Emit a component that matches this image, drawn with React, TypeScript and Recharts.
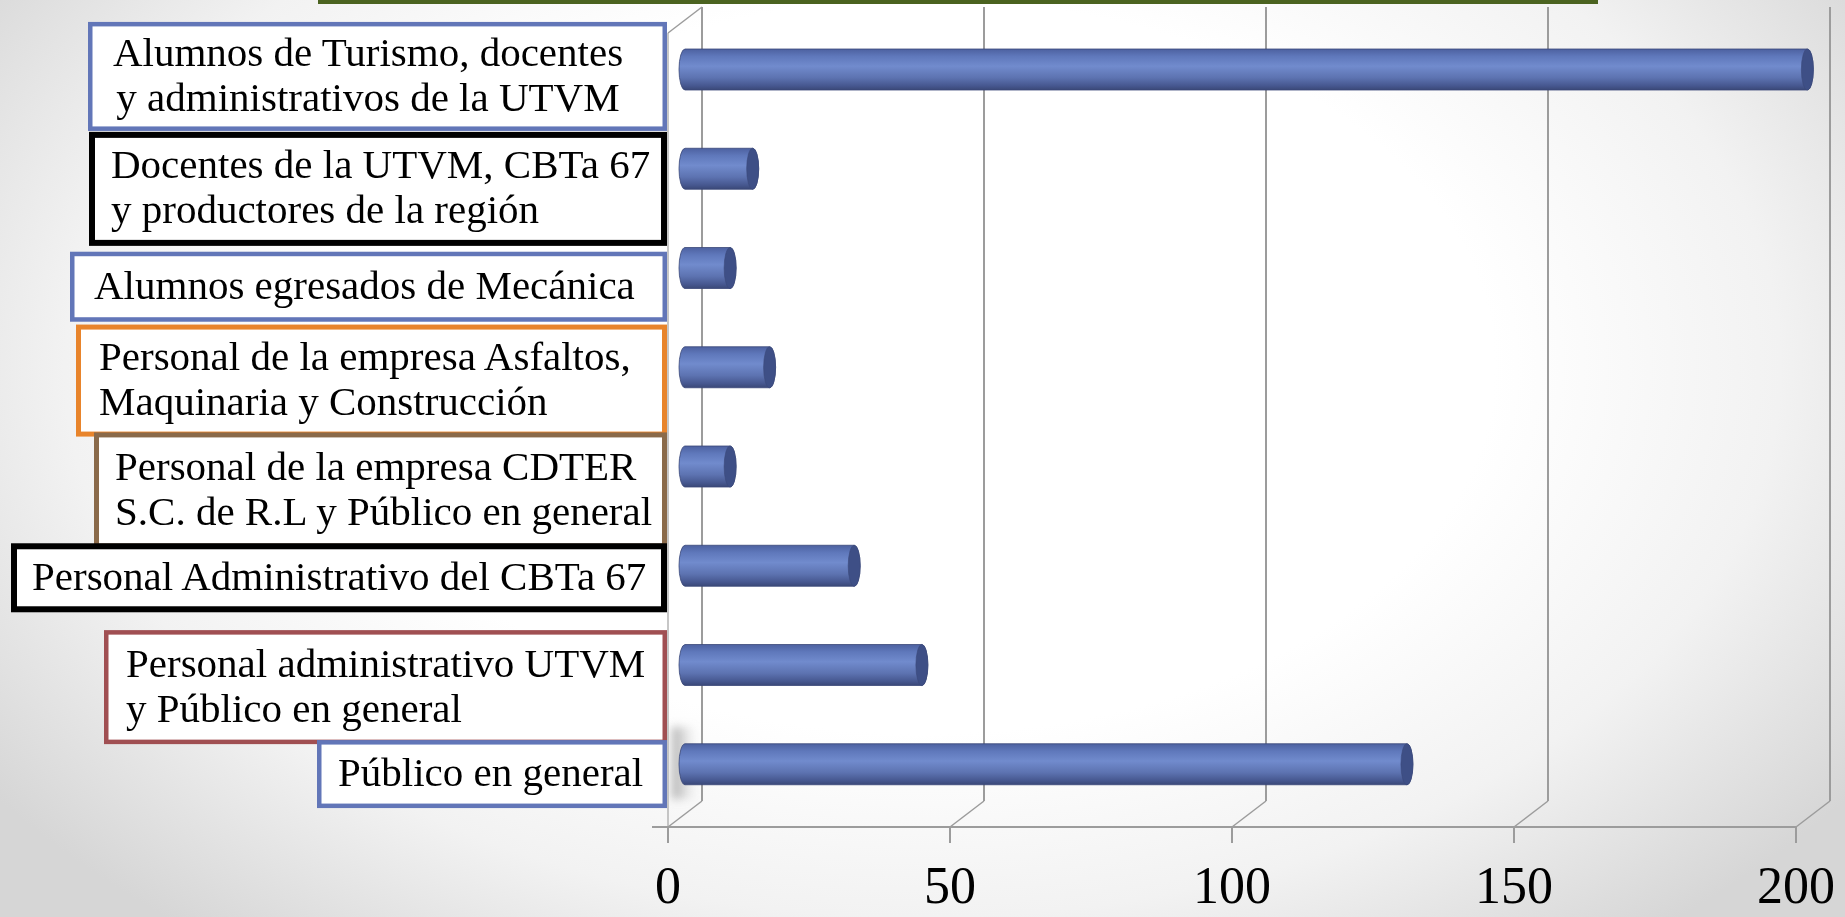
import React from 'react';
import { BarChart, Bar, XAxis, YAxis, usePlotArea } from 'recharts';

// Audience groups (top to bottom), "\n" marks the line break inside each label box
const categories = [
  'Alumnos de Turismo, docentes\ny administrativos de la UTVM',
  'Docentes de la UTVM, CBTa 67\ny productores de la región',
  'Alumnos egresados de Mecánica',
  'Personal de la empresa Asfaltos,\nMaquinaria y Construcción',
  'Personal de la empresa CDTER\nS.C. de R.L y Público en general',
  'Personal Administrativo del CBTa 67',
  'Personal administrativo UTVM\ny Público en general',
  'Público en general',
];

// Number of participants per group
const participants = [199, 12, 8, 15, 8, 30, 42, 128];

const xTicks = [0, 50, 100, 150, 200];

const W = 1845;
const H = 917;

const Colors = {
  Grid: '#9c9c9c',
  Title: '#4b6320',
  CapFill: '#3e4f86',
  BarEdge: '#3a4878',
  Blue: '#6276b8',
  Black: '#000000',
  Orange: '#e8842b',
  Brown: '#8a6a4a',
  Red: '#a04f52',
} as const;

// 3D depth: back wall offset and the middle plane where the cylinders sit
const BACK_DX = 34;
const BACK_DY = -26;
const MID_DX = 17;
const MID_DY = -13;

const FONT = "'Liberation Serif', 'Times New Roman', serif";
const TICK_BASELINE = 903;

// Box look for each category label (same order as categories)
const boxStyles = [
  { left: 88, top: -60.7, height: 109, stroke: Colors.Blue, sw: 4.5, textX: 368, anchor: 'middle' },
  { left: 89, top: -50, height: 114, stroke: Colors.Black, sw: 6, textX: 111, anchor: 'start' },
  { left: 70, top: -29.4, height: 70, stroke: Colors.Blue, sw: 4.5, textX: 94, anchor: 'start' },
  { left: 76, top: -55.8, height: 112, stroke: Colors.Orange, sw: 5, textX: 99, anchor: 'start' },
  { left: 94, top: -47.2, height: 116, stroke: Colors.Brown, sw: 5, textX: 115, anchor: 'start' },
  { left: 11, top: -35.6, height: 69, stroke: Colors.Black, sw: 6, textX: 32, anchor: 'start' },
  { left: 104, top: -48, height: 114, stroke: Colors.Red, sw: 4.5, textX: 126, anchor: 'start' },
  { left: 317, top: -37.3, height: 68, stroke: Colors.Blue, sw: 4.5, textX: 338, anchor: 'start' },
];
const BOX_RIGHT = 667;

const data = categories.map((name, i) => ({ name, value: participants[i] }));

// Category label drawn inside a coloured box
const CategoryBox = (props: any) => {
  const { y, payload } = props;
  const i = categories.indexOf(payload.value);
  const s = boxStyles[i];
  if (!s) return null;
  const top = y + s.top;
  const lines = String(payload.value).split('\n');
  const cy = top + s.height / 2;
  const lh = 45;
  return (
    <g>
      <rect
        x={s.left + s.sw / 2}
        y={top + s.sw / 2}
        width={BOX_RIGHT - s.left - s.sw}
        height={s.height - s.sw}
        fill="#ffffff"
        stroke={s.stroke}
        strokeWidth={s.sw}
      />
      {lines.map((line, k) => (
        <text
          key={k}
          x={s.textX}
          y={cy + 12 + (k - (lines.length - 1) / 2) * lh}
          textAnchor={s.anchor}
          fontFamily={FONT}
          fontSize={41}
          fill="#000"
        >
          {line}
        </text>
      ))}
    </g>
  );
};

const ValueTick = (props: any) => {
  const { x, payload } = props;
  return (
    <text x={x} y={TICK_BASELINE} textAnchor="middle" fontFamily={FONT} fontSize={52} fill="#000">
      {payload.value}
    </text>
  );
};

// Cylinder bar, sitting in the middle depth plane
const CylinderShape = (props: any) => {
  const { x, y, width, height } = props;
  if (x == null || y == null || !width || width <= 0) return null;
  const x0 = x + MID_DX;
  const x1 = x + width + MID_DX;
  const top = y + MID_DY;
  const bot = top + height;
  const ry = height / 2;
  const rx = 6;
  const d = `M ${x0} ${top} L ${x1} ${top} A ${rx} ${ry} 0 0 1 ${x1} ${bot} L ${x0} ${bot} A ${rx} ${ry} 0 0 1 ${x0} ${top} Z`;
  return (
    <g>
      <path d={d} fill="url(#cylBody)" stroke={Colors.BarEdge} strokeWidth={0.8} />
      <ellipse cx={x1} cy={top + ry} rx={rx} ry={ry} fill={Colors.CapFill} stroke={Colors.BarEdge} strokeWidth={0.6} />
    </g>
  );
};

// Back wall gridlines, left wall and floor of the 3D plot
const Walls = () => {
  const plot = usePlotArea();
  if (!plot) return null;
  const px = (v: number) => plot.x + (v / xTicks[xTicks.length - 1]) * plot.width;
  const bottom = plot.y + plot.height;
  return (
    <g>
      <defs>
        <linearGradient id="cylBody" x1="0" y1="0" x2="0" y2="1">
          <stop offset="0%" stopColor="#4d61a0" />
          <stop offset="18%" stopColor="#5f78bb" />
          <stop offset="42%" stopColor="#718bcd" />
          <stop offset="70%" stopColor="#5d73b1" />
          <stop offset="90%" stopColor="#46578f" />
          <stop offset="100%" stopColor="#3a4877" />
        </linearGradient>
        <linearGradient id="wallShadow" x1="0" y1="0" x2="1" y2="0">
          <stop offset="0%" stopColor="#8a8a8a" stopOpacity={0.7} />
          <stop offset="100%" stopColor="#bcbcbc" stopOpacity={0} />
        </linearGradient>
        <filter id="soft" x="-50%" y="-50%" width="200%" height="200%">
          <feGaussianBlur stdDeviation="4" />
        </filter>
      </defs>
      {/* shadow on the left wall */}
      <rect x={plot.x + 4} y={bottom - 100} width={24} height={72} fill="url(#wallShadow)" filter="url(#soft)" />
      {/* back wall gridlines */}
      {xTicks.map((v) => (
        <line key={`g${v}`} x1={px(v) + BACK_DX} y1={plot.y + BACK_DY} x2={px(v) + BACK_DX} y2={bottom + BACK_DY} stroke={Colors.Grid} strokeWidth={2} />
      ))}
      {/* left wall */}
      <line x1={plot.x} y1={plot.y} x2={plot.x} y2={bottom} stroke="#b4b4b4" strokeWidth={1.5} />
      <line x1={plot.x} y1={plot.y} x2={plot.x + BACK_DX} y2={plot.y + BACK_DY} stroke={Colors.Grid} strokeWidth={1.5} />
      {/* floor diagonals */}
      {xTicks.map((v) => (
        <line key={`f${v}`} x1={px(v)} y1={bottom} x2={px(v) + BACK_DX} y2={bottom + BACK_DY} stroke={Colors.Grid} strokeWidth={1.5} />
      ))}
      {/* front axis line with tick marks */}
      <line x1={plot.x - 16} y1={bottom} x2={plot.x + plot.width} y2={bottom} stroke={Colors.Grid} strokeWidth={2} />
      {xTicks.map((v) => (
        <line key={`t${v}`} x1={px(v)} y1={bottom} x2={px(v)} y2={bottom + 16} stroke={Colors.Grid} strokeWidth={2} />
      ))}
    </g>
  );
};

const App = () => {
  return (
    <div
      style={{
        position: 'fixed',
        left: 0,
        top: 0,
        width: W,
        height: H,
        overflow: 'hidden',
        background: 'radial-gradient(ellipse 62% 80% at 50% 40%, #ffffff 50%, #f2f2f2 75%, #d6d6d6 100%)',
      }}
    >
      {/* bottom edge of the title box above the chart */}
      <div style={{ position: 'absolute', left: 318, top: 0, width: 1280, height: 4, background: Colors.Title }} />
      <BarChart
        width={W}
        height={H}
        data={data}
        layout="vertical"
        margin={{ top: 33, right: 49, bottom: 0, left: 0 }}
        barCategoryGap={0}
      >
        <Walls />
        <XAxis
          type="number"
          domain={[0, 200]}
          ticks={xTicks}
          height={90}
          axisLine={false}
          tickLine={false}
          tickSize={0}
          tickMargin={0}
          tick={<ValueTick />}
          interval={0}
        />
        <YAxis
          type="category"
          dataKey="name"
          width={668}
          axisLine={false}
          tickLine={false}
          tick={<CategoryBox />}
          interval={0}
        />
        <Bar dataKey="value" barSize={41} shape={<CylinderShape />} isAnimationActive={false} />
      </BarChart>
    </div>
  );
};

export default App;
